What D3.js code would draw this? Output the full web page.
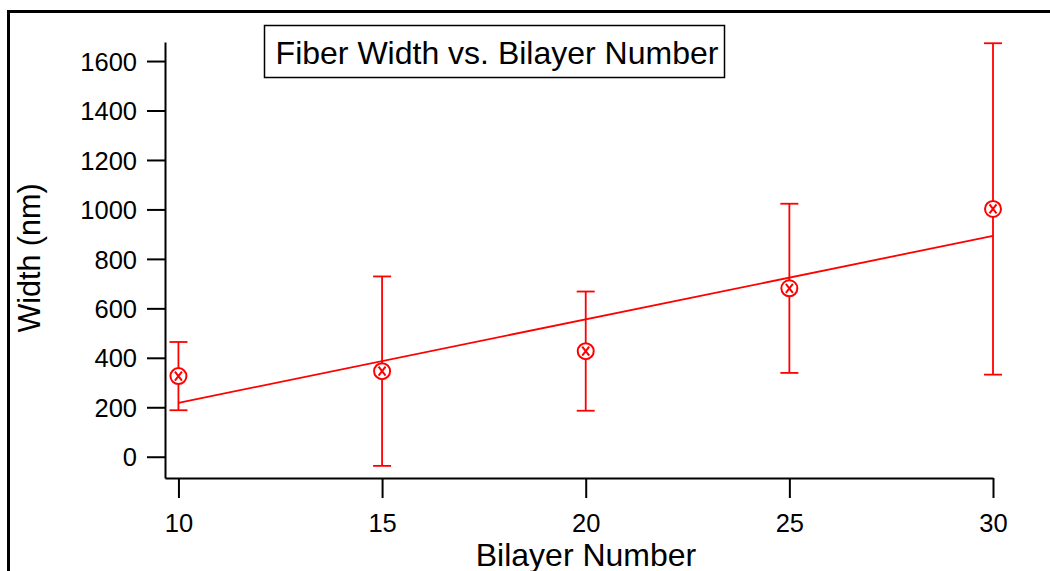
<!DOCTYPE html>
<html>
<head>
<meta charset="utf-8">
<script src="https://cdn.jsdelivr.net/npm/d3@7"></script>
<style>
  body { margin: 0; background: #fff; }
  svg { display: block; font-family: "Liberation Sans", Arial, sans-serif; }
</style>
</head>
<body>
<svg></svg>
<script>
const WIDTH = 1050;
const HEIGHT = 571;

// data
const bilayers = [10, 15, 20, 25, 30];
const widths = [326, 346, 427, 681, 1002];
const errors = [138, 383, 241, 342, 670];
const fitX = [10, 30];
const fitY = [218, 893];
const yTicks = [0, 200, 400, 600, 800, 1000, 1200, 1400, 1600];
const xTicks = [10, 15, 20, 25, 30];

const RED = "#ff0000";

let svg = d3.select("svg")
    .attr("width", WIDTH)
    .attr("height", HEIGHT);

// outer frame (runs off the right and bottom edges)
svg.append("rect")
    .attr("x", 8.5)
    .attr("y", 11.5)
    .attr("width", 1100)
    .attr("height", 600)
    .attr("fill", "none")
    .attr("stroke", "black")
    .attr("stroke-width", 3);

let x = d3.scaleLinear()
    .domain([9.67, 30])
    .range([165, 993]);

let y = d3.scaleLinear()
    .domain([-86, 1677])
    .range([478, 42]);

// axes
let yAxis = svg.append("g")
    .attr("transform", `translate(${x(9.67)},0)`)
    .call(d3.axisLeft(y).tickValues(yTicks).tickFormat(d3.format("d"))
        .tickSize(18).tickPadding(10).tickSizeOuter(0));

let xAxis = svg.append("g")
    .attr("transform", `translate(0,${y(-86)})`)
    .call(d3.axisBottom(x).tickValues(xTicks).tickFormat(d3.format("d"))
        .tickSize(20).tickPadding(16).tickSizeOuter(0));

[xAxis, yAxis].forEach(a => {
    a.select(".domain").attr("stroke", "black").attr("stroke-width", 2);
    a.selectAll(".tick line").attr("stroke", "black").attr("stroke-width", 2);
    a.selectAll(".tick text")
        .attr("fill", "black")
        .style("font-family", "'Liberation Sans', Arial, sans-serif")
        .style("font-size", "25.5px");
});
yAxis.selectAll(".tick text").attr("dy", "0.36em");
xAxis.selectAll(".tick text").attr("dy", "0.72em");

// axis titles
svg.append("text")
    .attr("x", 586)
    .attr("y", 566)
    .attr("text-anchor", "middle")
    .style("font-size", "32px")
    .text("Bilayer Number");

svg.append("text")
    .attr("transform", "translate(40,258) rotate(-90)")
    .attr("text-anchor", "middle")
    .style("font-size", "30.5px")
    .text("Width (nm)");

// title box
svg.append("rect")
    .attr("x", 264.5)
    .attr("y", 25.5)
    .attr("width", 460)
    .attr("height", 52)
    .attr("fill", "white")
    .attr("stroke", "black")
    .attr("stroke-width", 1.5);

svg.append("text")
    .attr("x", 497)
    .attr("y", 64)
    .attr("text-anchor", "middle")
    .style("font-size", "32px")
    .text("Fiber Width vs. Bilayer Number");

// fit line
let line = d3.line()
    .x((d, i) => x(fitX[i]))
    .y(d => y(d));

svg.append("path")
    .attr("d", line(fitY))
    .attr("fill", "none")
    .attr("stroke", RED)
    .attr("stroke-width", 1.8);

// error bars
let pts = bilayers.map((b, i) => ({ b: b, w: widths[i], e: errors[i] }));

let bars = svg.append("g")
    .attr("stroke", RED)
    .attr("stroke-width", 1.8)
    .attr("fill", "none");

bars.selectAll(".ebar")
    .data(pts)
    .join("line")
    .attr("x1", d => x(d.b))
    .attr("x2", d => x(d.b))
    .attr("y1", d => y(d.w - d.e))
    .attr("y2", d => y(d.w + d.e));

bars.selectAll(".ctop")
    .data(pts)
    .join("line")
    .attr("class", "ctop")
    .attr("x1", d => x(d.b) - 9)
    .attr("x2", d => x(d.b) + 9)
    .attr("y1", d => y(d.w + d.e))
    .attr("y2", d => y(d.w + d.e));

bars.selectAll(".cbot")
    .data(pts)
    .join("line")
    .attr("class", "cbot")
    .attr("x1", d => x(d.b) - 9)
    .attr("x2", d => x(d.b) + 9)
    .attr("y1", d => y(d.w - d.e))
    .attr("y2", d => y(d.w - d.e));

// markers: circle with an x inside
let markers = svg.append("g")
    .selectAll("g")
    .data(pts)
    .join("g")
    .attr("transform", d => `translate(${x(d.b)},${y(d.w)})`)
    .attr("stroke", RED)
    .attr("stroke-width", 2)
    .attr("fill", "white");

markers.append("circle").attr("r", 8);
markers.append("path")
    .attr("d", "M-3.5,-4.5L3.5,4.5M3.5,-4.5L-3.5,4.5")
    .attr("fill", "none");
</script>
</body>
</html>
